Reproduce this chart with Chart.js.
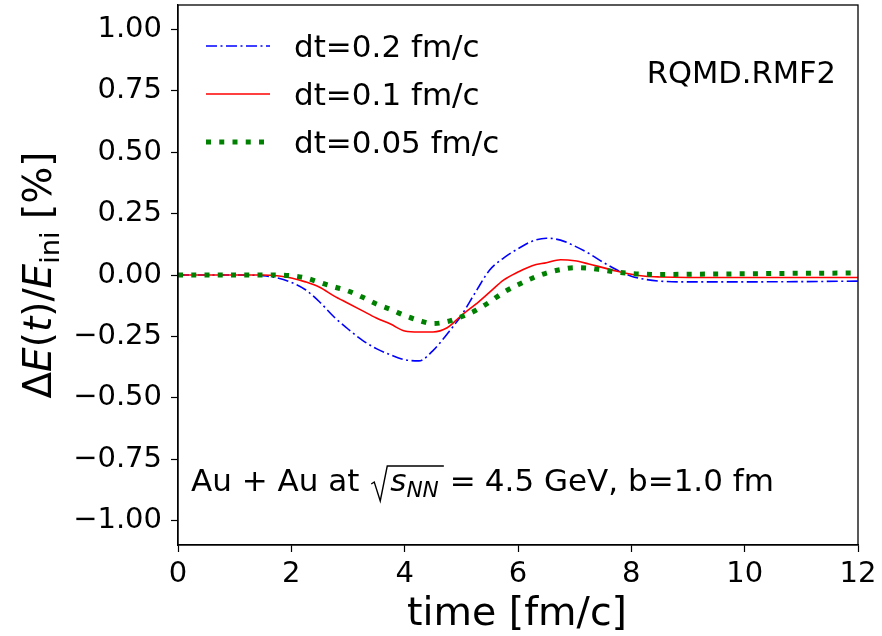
<!DOCTYPE html>
<html>
<head>
<meta charset="utf-8">
<script src="https://cdn.jsdelivr.net/npm/chart.js@4.4.1/dist/chart.umd.min.js"></script>
<style>
  html, body { margin: 0; padding: 0; background: #fff; }
  #wrap { width: 882px; height: 636px; }
</style>
</head>
<body>
<div id="wrap"><canvas id="energyChart" width="882" height="636"></canvas></div>
<script>
// Energy conservation check, RQMD.RMF2

// Data
const timeValues = [0, 0.5, 1, 1.5, 1.75, 2, 2.25, 2.5, 2.75, 3, 3.25, 3.5, 3.75, 4, 4.25, 4.5, 4.75,
    5, 5.25, 5.5, 5.75, 6, 6.25, 6.5, 6.75, 7, 7.25, 7.5, 7.75, 8, 8.25, 8.5, 9, 10, 11, 12];
const dt02Values = [0, 0, 0, -0.003, -0.012, -0.03, -0.06, -0.11, -0.17, -0.22, -0.265, -0.3, -0.325, -0.345, -0.35, -0.308, -0.24,
    -0.165, -0.07, 0.02, 0.07, 0.107, 0.138, 0.15, 0.142, 0.118, 0.088, 0.052, 0.02, -0.005, -0.018, -0.025, -0.028, -0.028, -0.027, -0.025];
const dt01Values = [0, 0, 0, 0, -0.003, -0.012, -0.028, -0.05, -0.085, -0.115, -0.145, -0.175, -0.2, -0.228, -0.232, -0.232, -0.215,
    -0.165, -0.12, -0.07, -0.02, 0.012, 0.038, 0.05, 0.062, 0.058, 0.045, 0.03, 0.015, 0.003, -0.005, -0.008, -0.01, -0.01, -0.01, -0.01];
const dt005Values = [0, 0, 0, 0, 0, -0.003, -0.012, -0.03, -0.048, -0.065, -0.09, -0.118, -0.14, -0.165, -0.185, -0.198, -0.19,
    -0.17, -0.145, -0.11, -0.07, -0.04, -0.013, 0.008, 0.022, 0.03, 0.028, 0.02, 0.012, 0.006, 0.003, 0.002, 0.003, 0.005, 0.007, 0.008];

const seriesLabels = ['dt=0.2 fm/c', 'dt=0.1 fm/c', 'dt=0.05 fm/c'];
const modelLabel = 'RQMD.RMF2';

const FONT = "'DejaVu Sans', sans-serif";

function toPoints(values) {
    return values.map((v, i) => ({ x: timeValues[i], y: v }));
}

function fmtTick(v, digits) {
    if (Math.abs(v) < 1e-9) return (0).toFixed(digits);
    return (v < 0 ? '\u2212' : '') + Math.abs(v).toFixed(digits);
}

// Text with italic / subscript runs (mathtext-like)
function runFont(run, size) {
    const s = run.sub ? size * 0.7 : size;
    return (run.it ? 'italic ' : '') + s + 'px ' + FONT;
}

function runsWidth(ctx, runs, size) {
    let w = 0;
    runs.forEach(r => { ctx.font = runFont(r, size); w += ctx.measureText(r.t).width; });
    return w;
}

function drawRuns(ctx, runs, x, y, size) {
    ctx.textAlign = 'left';
    ctx.textBaseline = 'alphabetic';
    runs.forEach(r => {
        ctx.font = runFont(r, size);
        ctx.fillText(r.t, x, r.sub ? y + size * 0.2 : y);
        x += ctx.measureText(r.t).width;
    });
    return x;
}

const overlayPlugin = {
    id: 'overlay',
    afterDraw(chart) {
        const { ctx, chartArea: a } = chart;
        ctx.save();

        // frame
        ctx.strokeStyle = '#000';
        ctx.lineWidth = 1.3;
        ctx.strokeRect(a.left, a.top, a.right - a.left, a.bottom - a.top);

        // legend
        chart.data.datasets.forEach((ds, i) => {
            const ly = a.top + 41 + i * 48;
            ctx.save();
            ctx.strokeStyle = ds.borderColor;
            ctx.lineWidth = ds.borderWidth;
            ctx.setLineDash(ds.borderDash || []);
            ctx.lineCap = 'butt';
            ctx.beginPath();
            ctx.moveTo(a.left + 28, ly);
            ctx.lineTo(a.left + 92, ly);
            ctx.stroke();
            ctx.restore();
            ctx.fillStyle = '#000';
            ctx.font = '31px ' + FONT;
            ctx.textAlign = 'left';
            ctx.textBaseline = 'alphabetic';
            ctx.fillText(ds.label, a.left + 116, ly + 11);
        });

        // model label
        ctx.fillStyle = '#000';
        ctx.font = '30.5px ' + FONT;
        ctx.textAlign = 'right';
        ctx.textBaseline = 'alphabetic';
        ctx.fillText(modelLabel, a.right - 22, a.top + 78);

        // collision annotation: Au + Au at sqrt(s_NN) = 4.5 GeV, b=1.0 fm
        const size = 31;
        const by = a.bottom - 54;
        let x = drawRuns(ctx, [{ t: 'Au + Au at ' }], a.left + 13, by, size);
        const rx = x + 2;
        const inner = [{ t: 's', it: true }, { t: 'NN', it: true, sub: true }];
        const innerW = runsWidth(ctx, inner, size);
        const oEnd = rx + 19 + innerW + 5;
        ctx.strokeStyle = '#000';
        ctx.lineWidth = 1.4;
        ctx.beginPath();
        ctx.moveTo(rx, by - 7);
        ctx.lineTo(rx + 3, by - 9);
        ctx.lineTo(rx + 9, by + 10);
        ctx.lineTo(rx + 16, by - 25);
        ctx.lineTo(oEnd, by - 25);
        ctx.stroke();
        drawRuns(ctx, inner, rx + 19, by, size);
        x = drawRuns(ctx, [{ t: '=' }], oEnd + 6, by, size);
        drawRuns(ctx, [{ t: '4.5 GeV, b=1.0 fm' }], x + 9, by, size);

        // y axis title
        ctx.save();
        ctx.translate(51, (a.top + a.bottom) / 2);
        ctx.rotate(-Math.PI / 2);
        const yRuns = [
            { t: '\u0394' }, { t: 'E', it: true }, { t: '(' }, { t: 't', it: true }, { t: ')/' },
            { t: 'E', it: true }, { t: 'ini', sub: true }, { t: ' [%]' }
        ];
        const tw = runsWidth(ctx, yRuns, 39);
        drawRuns(ctx, yRuns, -tw / 2, 0, 39);
        ctx.restore();

        // x axis title
        ctx.font = '39.5px ' + FONT;
        ctx.textAlign = 'center';
        ctx.textBaseline = 'alphabetic';
        ctx.fillText('time [fm/c]', (a.left + a.right) / 2 - 1, 625);

        ctx.restore();
    }
};

const axisTicks = {
    color: '#000',
    font: { family: FONT, size: 29 }
};

new Chart(document.getElementById('energyChart'), {
    type: 'line',
    data: {
        datasets: [
            {
                label: seriesLabels[0],
                data: toPoints(dt02Values),
                borderColor: '#0000ff',
                borderWidth: 1.6,
                borderDash: [11, 3.5, 2, 3.5],
                order: 3
            },
            {
                label: seriesLabels[1],
                data: toPoints(dt01Values),
                borderColor: '#ff0000',
                borderWidth: 1.6,
                order: 2
            },
            {
                label: seriesLabels[2],
                data: toPoints(dt005Values),
                borderColor: '#008000',
                borderWidth: 5,
                borderDash: [5, 8.25],
                order: 1
            }
        ]
    },
    options: {
        responsive: false,
        animation: false,
        events: [],
        elements: {
            point: { radius: 0 },
            line: { cubicInterpolationMode: 'monotone', borderCapStyle: 'butt' }
        },
        layout: { padding: { top: 5, right: 24, left: 0, bottom: 0 } },
        plugins: {
            legend: { display: false },
            tooltip: { enabled: false }
        },
        scales: {
            x: {
                type: 'linear',
                min: 0,
                max: 12,
                ticks: { ...axisTicks, stepSize: 2, padding: 5, maxRotation: 0, callback: v => String(v) },
                grid: { display: true, drawOnChartArea: false, drawTicks: true, tickLength: 7, color: '#000', tickWidth: 1.2 },
                border: { display: true, color: '#000', width: 1.3 },
                afterFit: s => { s.height = 91; s.paddingLeft = 0; s.paddingRight = 0; }
            },
            y: {
                type: 'linear',
                min: -1.1,
                max: 1.1,
                ticks: { ...axisTicks, stepSize: 0.25, includeBounds: false, padding: 9, callback: v => fmtTick(v, 2) },
                grid: { display: true, drawOnChartArea: false, drawTicks: true, tickLength: 7, color: '#000', tickWidth: 1.2 },
                border: { display: true, color: '#000', width: 1.3 },
                afterFit: s => { s.width = 178; s.paddingTop = 0; s.paddingBottom = 0; }
            }
        }
    },
    plugins: [overlayPlugin]
});
</script>
</body>
</html>
